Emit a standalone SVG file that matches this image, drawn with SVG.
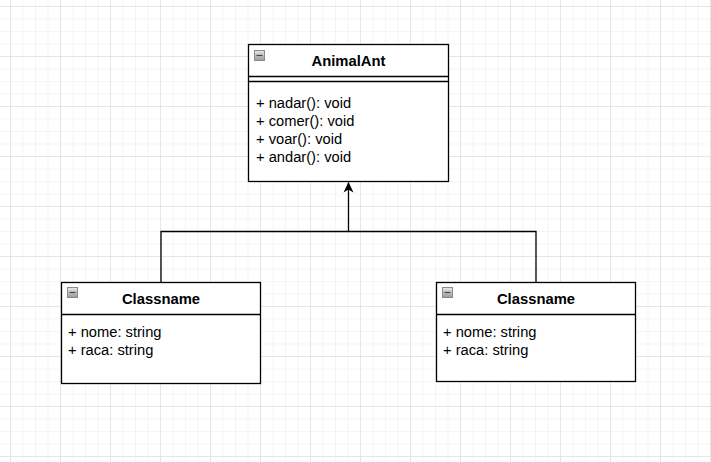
<svg xmlns="http://www.w3.org/2000/svg" width="711" height="462" viewBox="0 0 711 462">
<style>
.box{fill:#fff;stroke:#000;stroke-width:1.3}
.ln{stroke:#000;stroke-width:1.3;fill:none}
.title{font-family:"Liberation Sans",Arial,sans-serif;font-size:14.8px;font-weight:bold;text-anchor:middle;fill:#000}
.item{font-family:"Liberation Sans",Arial,sans-serif;font-size:14.7px;fill:#000}
.edge{stroke:#000;stroke-width:1.3;fill:none}
</style>
<defs>
<pattern id="minor" x="10" y="6" width="12.5" height="12.5" patternUnits="userSpaceOnUse">
<path d="M0 0H12.5M0 0V12.5" stroke="#ececec" stroke-width="1" fill="none"/>
</pattern>
<pattern id="major" x="10" y="6" width="50" height="50" patternUnits="userSpaceOnUse">
<path d="M0 0H50M0 0V50" stroke="#d8d8d8" stroke-width="1" fill="none"/>
</pattern>
<linearGradient id="ig" x1="0" y1="0" x2="0" y2="1">
<stop offset="0" stop-color="#e8e8e8"/>
<stop offset="1" stop-color="#9a9a9a"/>
</linearGradient>
<g id="icon">
<rect x="0.5" y="0.5" width="10" height="10" fill="url(#ig)" stroke="#8a8a8a" stroke-width="1"/>
<path d="M2.5 5.5H8.5" stroke="#444" stroke-width="1.2"/>
</g>
<marker id="arr" markerWidth="12" markerHeight="12" refX="10" refY="5" orient="auto" markerUnits="userSpaceOnUse" viewBox="0 0 12 10">
<path d="M0 0L10.5 5L0 10L3 5Z" fill="#000"/>
</marker>
</defs>
<rect width="711" height="462" fill="#fff"/>
<rect width="711" height="462" fill="url(#minor)"/>
<rect width="711" height="462" fill="url(#major)"/>

<g id="connectors">
<path class="edge" d="M161 282V231.5H536V282"/>
<path class="edge" d="M348.5 231.5V182.5" marker-end="url(#arr)"/>
</g>

<g id="animalant">
<rect class="box" x="248.5" y="44.5" width="200" height="137"/>
<path class="ln" d="M248.5 76.5H448.5M248.5 81.5H448.5"/>
<use href="#icon" x="254" y="50"/>
<text class="title" x="348.5" y="66">AnimalAnt</text>
<text class="item" x="256" y="108">+ nadar(): void</text>
<text class="item" x="256" y="126">+ comer(): void</text>
<text class="item" x="256" y="144">+ voar(): void</text>
<text class="item" x="256" y="162">+ andar(): void</text>
</g>

<g id="classname-left">
<rect class="box" x="61.5" y="282.5" width="199" height="101"/>
<path class="ln" d="M61.5 314.5H260.5"/>
<use href="#icon" x="67" y="287"/>
<text class="title" x="161" y="303.5">Classname</text>
<text class="item" x="68" y="337">+ nome: string</text>
<text class="item" x="68" y="355">+ raca: string</text>
</g>

<g id="classname-right">
<rect class="box" x="436.5" y="282.5" width="199" height="99"/>
<path class="ln" d="M436.5 314.5H635.5"/>
<use href="#icon" x="442" y="287"/>
<text class="title" x="536" y="303.5">Classname</text>
<text class="item" x="443" y="337">+ nome: string</text>
<text class="item" x="443" y="355">+ raca: string</text>
</g>
</svg>
